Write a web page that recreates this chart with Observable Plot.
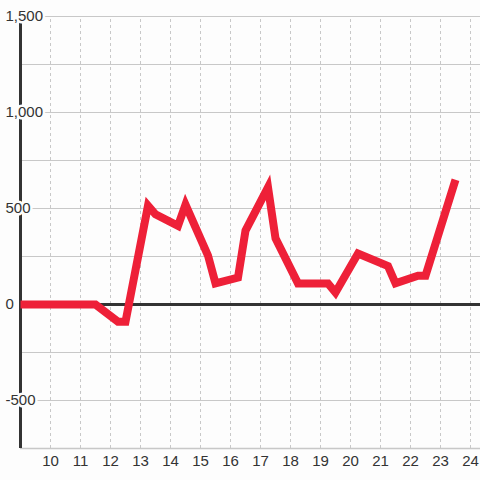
<!DOCTYPE html>
<html>
<head>
<meta charset="utf-8">
<script src="https://cdn.jsdelivr.net/npm/d3@7"></script>
<script src="https://cdn.jsdelivr.net/npm/@observablehq/plot@0.6"></script>
<style>
  html, body { margin: 0; padding: 0; background: #fdfdfd; }
  #chart svg { display: block; }
</style>
</head>
<body>
<div id="chart"></div>
<script>
const hours  = [9, 11.5, 12.25, 12.5, 13.25, 13.5, 14.25, 14.5, 15.25, 15.5, 16.25, 16.5, 17.25, 17.5, 18.25, 19.25, 19.5, 20.25, 21.25, 21.5, 22.25, 22.5, 23.5];
const values = [0, 0, -90, -90, 515, 470, 410, 520, 255, 110, 140, 385, 610, 345, 110, 110, 62, 265, 200, 110, 150, 150, 650];
const xTicks = [10, 11, 12, 13, 14, 15, 16, 17, 18, 19, 20, 21, 22, 23, 24];
const yGrid = [-500, -250, 0, 250, 500, 750, 1000, 1250, 1500];
const yLabels = [-500, 0, 500, 1000, 1500];

const data = hours.map((h, i) => ({h, v: values[i]}));
const fmt = d => d.toLocaleString("en-US");

const chart = Plot.plot({
  width: 480,
  height: 480,
  marginLeft: 20,
  marginRight: 0,
  marginTop: 16,
  marginBottom: 32,
  style: {background: "#fdfdfd", fontFamily: "'Liberation Sans', Arial, sans-serif", overflow: "visible"},
  x: {domain: [9, 24.3333], axis: null},
  y: {domain: [-750, 1500], axis: null},
  marks: [
    Plot.ruleX(xTicks, {y1: -750, y2: 1500, stroke: "#c8c8c8", strokeDasharray: "3,3", strokeWidth: 1}),
    Plot.ruleY(yGrid, {x1: 9, x2: 24.3333, stroke: "#c8c8c8", strokeWidth: 1}),
    Plot.ruleY([-750], {x1: 9, x2: 24.3333, stroke: "#c8c8c8", strokeWidth: 1.5}),
    Plot.ruleY([0], {x1: 9, x2: 24.3333, stroke: "#333", strokeWidth: 3}),
    Plot.ruleX([9], {y1: -750, y2: 1500, stroke: "#333", strokeWidth: 3}),
    Plot.line(data, {x: "h", y: "v", stroke: "#ee2038", strokeWidth: 8, strokeLinejoin: "miter", strokeLinecap: "butt", strokeMiterlimit: 4}),
    Plot.text(yLabels, {x: 9, y: d => d, text: d => fmt(d), textAnchor: "start", dx: -15, fontSize: 15, fill: "#333", stroke: "#fdfdfd", strokeWidth: 5}),
    Plot.text(xTicks, {x: d => d, y: -750, text: d => String(d), dy: 13, fontSize: 15, fill: "#333"})
  ]
});
document.getElementById("chart").appendChild(chart);
</script>
</body>
</html>
